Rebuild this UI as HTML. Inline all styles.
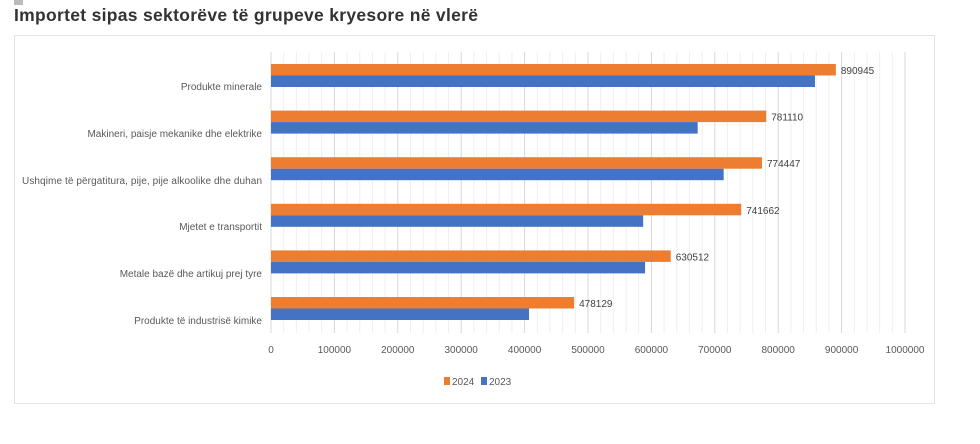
<!DOCTYPE html>
<html><head><meta charset="utf-8"><style>
body{margin:0;background:#fff;width:980px;height:439px;overflow:hidden;font-family:"Liberation Sans",sans-serif}
</style></head><body>
<svg width="980" height="439" xmlns="http://www.w3.org/2000/svg" font-family="Liberation Sans, sans-serif">
<rect x="14" y="0" width="9" height="5" fill="#bbb"/>
<text x="14" y="21" font-size="17.5" font-weight="bold" fill="#333" textLength="464">Importet sipas sektorëve të grupeve kryesore në vlerë</text>
<rect x="14.5" y="35.5" width="920" height="368" fill="#fff" stroke="#e3e3e3"/>
<g id="grid"></g>
<g id="bars"></g>
<g font-size="10" fill="#595959" text-anchor="end">
<text x="262" y="90">Produkte minerale</text>
<text x="262" y="137">Makineri, paisje mekanike dhe elektrike</text>
<text x="262" y="184" textLength="240">Ushqime të përgatitura, pije, pije alkoolike dhe duhan</text>
<text x="262" y="230">Mjetet e transportit</text>
<text x="262" y="277">Metale bazë dhe artikuj prej tyre</text>
<text x="262" y="324">Produkte të industrisë kimike</text>
</g>
<g font-size="10" fill="#595959" text-anchor="middle" id="ticks"></g>
<rect x="444" y="377" width="6" height="8" fill="#ed7d31"/>
<text x="452" y="385" font-size="10" fill="#595959">2024</text>
<rect x="481" y="377" width="6" height="8" fill="#4472c4"/>
<text x="489" y="385" font-size="10" fill="#595959">2023</text>
<script>
var ns="http://www.w3.org/2000/svg";
function el(p,t,a){var e=document.createElementNS(ns,t);for(var k in a)e.setAttribute(k,a[k]);document.getElementById(p).appendChild(e);return e;}
var x0=271,s=0.634/1000;
for(var v=0;v<=1000000;v+=20000){var x=x0+v*s;el("grid","line",{x1:x,x2:x,y1:52,y2:333,stroke:v%100000==0?"#d9d9d9":"#efefef","stroke-width":1});}
for(var v=0;v<=1000000;v+=100000){var t=el("ticks","text",{x:x0+v*s,y:353});t.textContent=v;}
var o=[890945,781110,774447,741662,630512,478129],b=[858000,673000,714000,587000,590000,407000];
for(var i=0;i<6;i++){var y=64+i*46.6;
el("bars","rect",{x:x0,y:y,width:o[i]*s,height:11.5,fill:"#ed7d31"});
el("bars","rect",{x:x0,y:y+11.5,width:b[i]*s,height:11.5,fill:"#4472c4"});
var t=el("bars","text",{x:x0+o[i]*s+5,y:y+10,"font-size":10,fill:"#404040"});t.textContent=o[i];}
</script>
</svg>
</body></html>
